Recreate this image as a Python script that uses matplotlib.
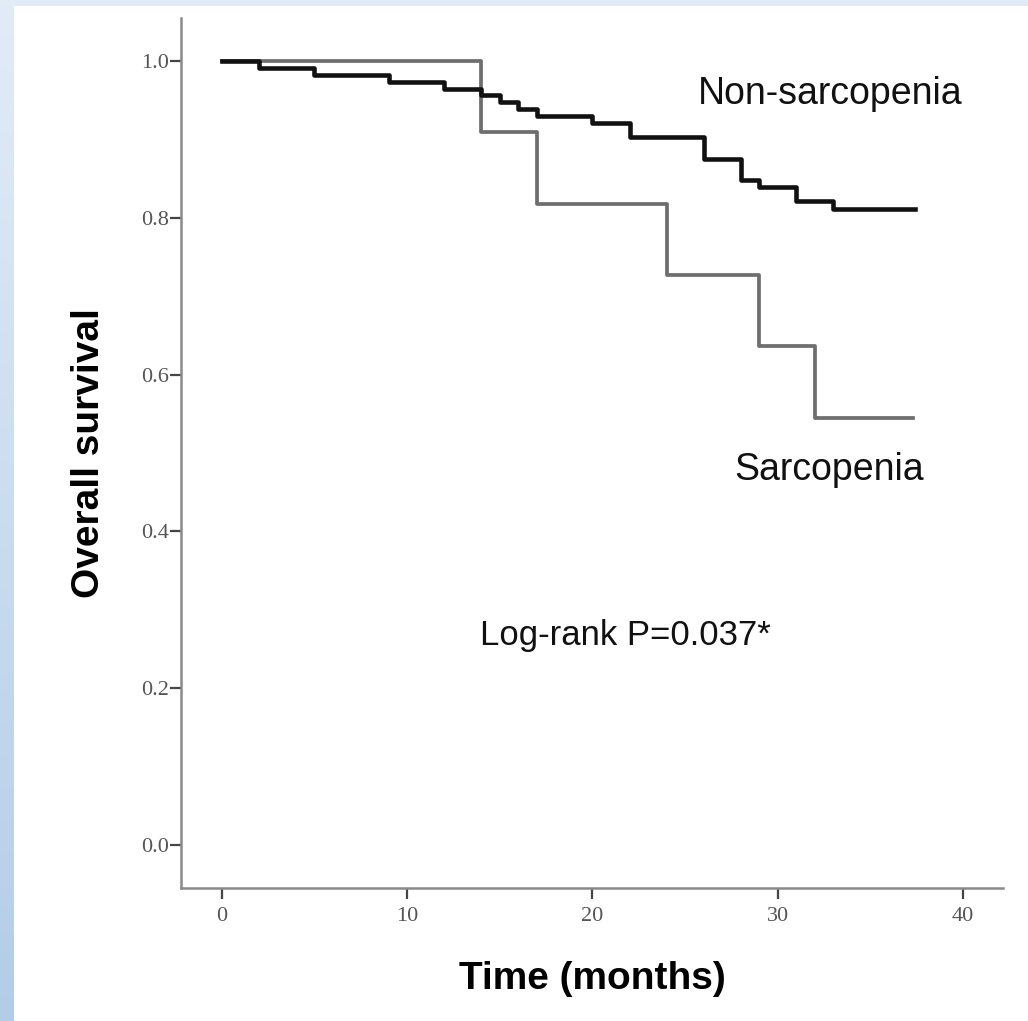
import numpy as np
import matplotlib
matplotlib.use("Agg")
import matplotlib.pyplot as plt
from matplotlib.patches import Rectangle

# Kaplan-Meier step data (months, survival)
nonSarcTime = [0, 2, 5, 9, 12, 14, 15, 16, 17, 20, 22, 26, 28, 29, 31, 33, 37.4]
nonSarcSurv = [1.0, 0.991, 0.982, 0.973, 0.964, 0.957, 0.948, 0.939, 0.930,
               0.921, 0.903, 0.875, 0.848, 0.839, 0.821, 0.811, 0.811]

sarcTime = [0, 14, 17, 24, 29, 32, 37.3]
sarcSurv = [1.0, 0.909, 0.818, 0.727, 0.636, 0.545, 0.545]

xTicks = [0, 10, 20, 30, 40]
yTicks = [0.0, 0.2, 0.4, 0.6, 0.8, 1.0]
yTickLabels = ["0.0", "0.2", "0.4", "0.6", "0.8", "1.0"]

fig = plt.figure(figsize=(10.28, 10.21), dpi=100)

# light blue frame behind the white panel
bg = fig.add_axes([0, 0, 1, 1], zorder=-10)
grad = np.linspace(0, 1, 256).reshape(-1, 1)
cmap = matplotlib.colors.LinearSegmentedColormap.from_list("frame", ["#e2ecf7", "#b3cde8"])
bg.imshow(grad, aspect="auto", cmap=cmap, extent=[0, 1, 0, 1], origin="upper")
bg.add_patch(Rectangle((14 / 1028, 0), 1, 1 - 6 / 1021, facecolor="white", edgecolor="none"))
bg.set_xlim(0, 1)
bg.set_ylim(0, 1)
bg.axis("off")

ax = fig.add_axes([181 / 1028, 1 - 888 / 1021, 822 / 1028, 870 / 1021])
ax.patch.set_alpha(0)

ax.plot(sarcTime, sarcSurv, drawstyle="steps-post", color="#6e6e6e", linewidth=2.7)
ax.plot(nonSarcTime, nonSarcSurv, drawstyle="steps-post", color="#111111", linewidth=3.3)

ax.set_xlim(-2.2, 42.15)
ax.set_ylim(-0.055, 1.055)

for side in ["top", "right"]:
    ax.spines[side].set_visible(False)
for side in ["left", "bottom"]:
    ax.spines[side].set_color("#8a8a8a")
    ax.spines[side].set_linewidth(1.8)

ax.set_xticks(xTicks)
ax.set_yticks(yTicks)
ax.set_yticklabels(yTickLabels)
ax.tick_params(axis="both", direction="out", length=8, width=1.6, color="#444444",
               labelsize=16, labelcolor="#555555")
ax.tick_params(axis="y", pad=1)
ax.tick_params(axis="x", pad=6)
for lab in ax.get_xticklabels() + ax.get_yticklabels():
    lab.set_fontfamily("Liberation Serif")

ax.set_xlabel("Time (months)", fontsize=28, fontweight="bold", family="Liberation Sans", labelpad=25)
ax.set_ylabel("Overall survival", fontsize=28, fontweight="bold", family="Liberation Sans", labelpad=24)

ax.text(32.8, 0.958, "Non-sarcopenia", fontsize=27, family="Liberation Sans",
        ha="center", va="center", color="#111111")
ax.text(32.75, 0.478, "Sarcopenia", fontsize=27, family="Liberation Sans",
        ha="center", va="center", color="#111111")
ax.text(21.75, 0.267, "Log-rank P=0.037*", fontsize=25, family="Liberation Sans",
        ha="center", va="center", color="#111111")

fig.savefig("out.png", dpi=100)
